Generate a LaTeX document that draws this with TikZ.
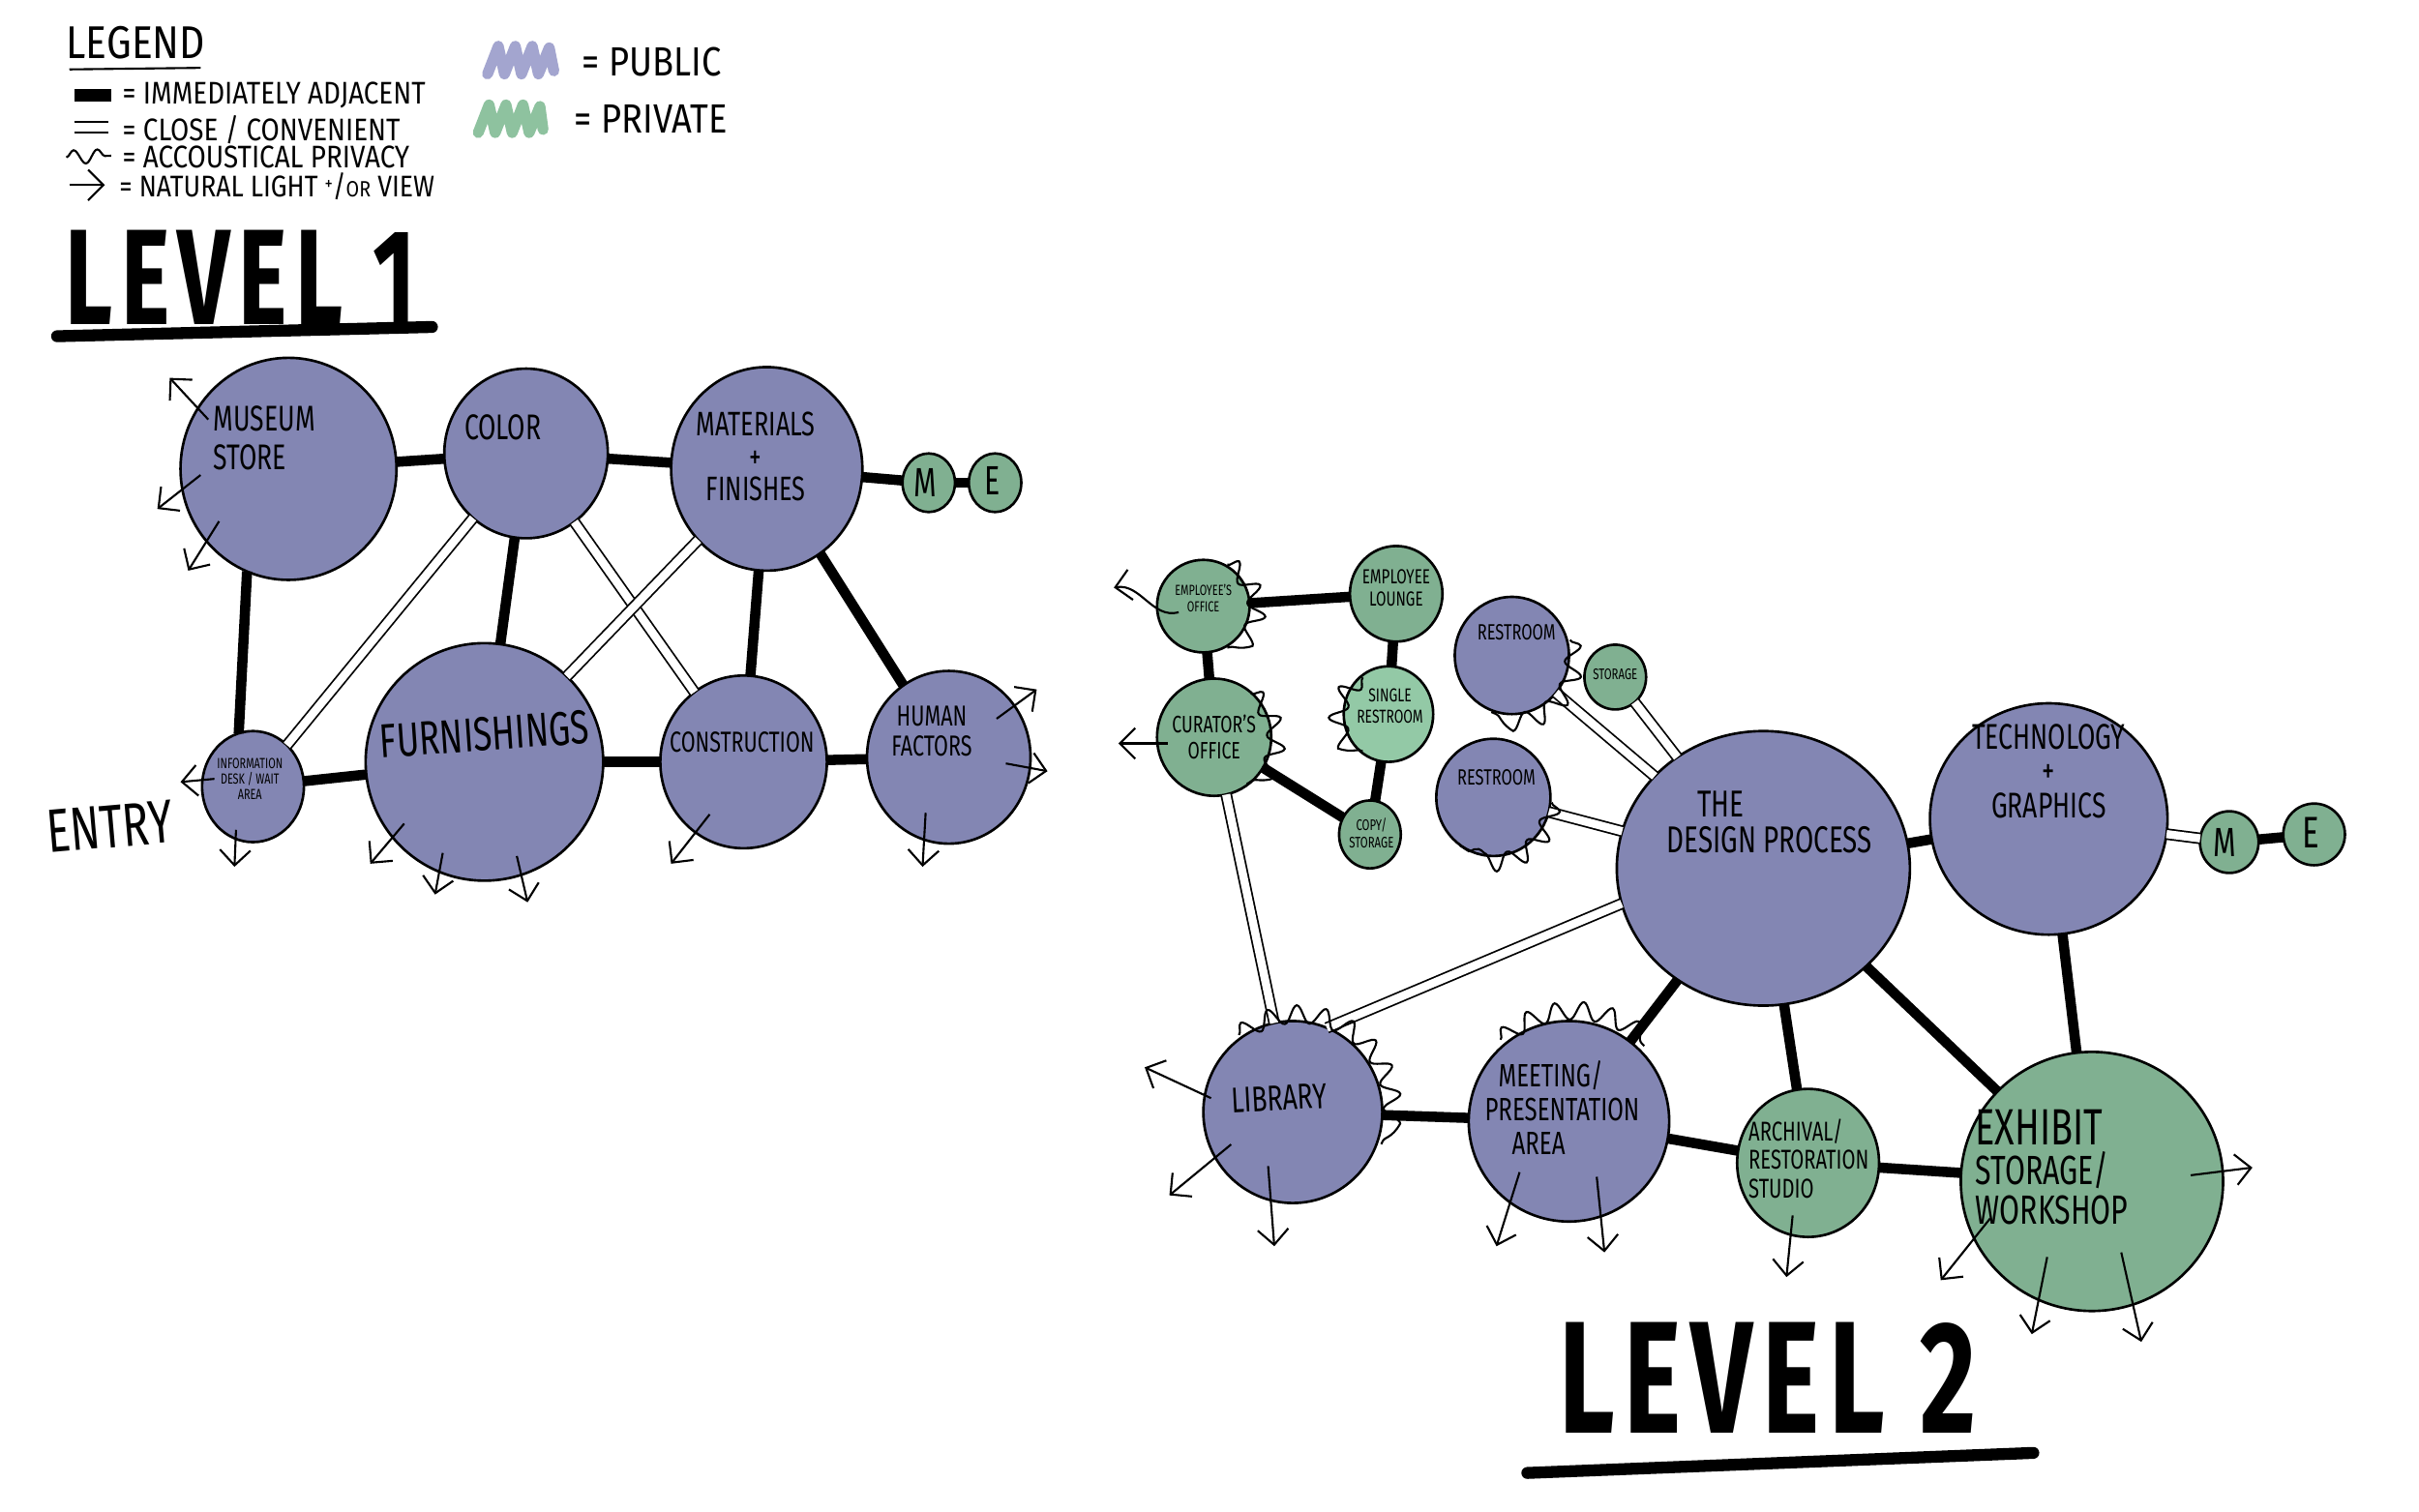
\documentclass[tikz,border=0pt]{standalone}
\usepackage{fontspec}
\setmainfont{Fira Sans}[FakeStretch=0.72]
\newfontfamily\legfont{Fira Sans}[FakeStretch=0.86]
\newfontfamily\titlefont{Fira Sans}[FakeStretch=0.68, LetterSpace=6]
\usetikzlibrary{shapes.geometric,arrows.meta,decorations.pathmorphing}
\definecolor{pub}{HTML}{8386B3}
\definecolor{priv}{HTML}{80B091}
\definecolor{privlt}{HTML}{93C9A6}
\definecolor{pubsw}{HTML}{A3A5CF}
\definecolor{privsw}{HTML}{8EC29F}
\newcommand{\hfs}[2]{\fontsize{#1}{#2}\selectfont}
\begin{document}
\begin{tikzpicture}[x=0.015944cm, y=-0.015944cm,
  room/.style={ellipse, draw=black, line width=0.75pt, inner sep=0pt, outer sep=0pt},
  pubr/.style={room, fill=pub},
  privr/.style={room, fill=priv},
  sz/.style 2 args={minimum width=#1*0.031888cm, minimum height=#2*0.031888cm},
  adj/.style={line width=3pt},
  conv/.style={draw=black, line width=0.5pt, double=white, double distance=2.4pt},
  lite/.style={line width=0.6pt, -{Straight Barb[length=4.5pt,width=9pt]}},
  squig/.style={line width=0.6pt, decorate, decoration={snake, amplitude=2.6pt, segment length=8pt}},
  lbl/.style={inner sep=0pt, align=center}]
\fill[white] (0,0) rectangle (1568,980);
\useasboundingbox (0,0) rectangle (1568,980);

% ---------------- Legend ----------------
\node[lbl, font=\legfont\hfs{13.5}{14}] (lgT) at (88,28) {LEGEND};
\draw[line width=0.6pt] (45,45) -- (130,44);
\fill (48,58) rectangle (72,66);
\node[lbl, anchor=west, font=\legfont\hfs{9.2}{9}] (lg1) at (79,62) {= IMMEDIATELY ADJACENT};
\draw[line width=0.6pt] (48,79) -- (70,79) (48,86) -- (70,86);
\node[lbl, anchor=west, font=\legfont\hfs{9.2}{9}] (lg2) at (79,84) {= CLOSE / CONVENIENT};
\draw[line width=0.6pt, decorate, decoration={snake, amplitude=2pt, segment length=7pt}] (43,102) -- (72,101);
\node[lbl, anchor=west, font=\legfont\hfs{9.2}{9}] (lg3) at (79,102) {= ACCOUSTICAL PRIVACY};
\draw[lite] (45,120) -- (68,120);
\node[lbl, anchor=west, font=\legfont\hfs{8.8}{9}] (lg4) at (77,121) {= NATURAL LIGHT \raisebox{2pt}{\hfs{5.5}{5}+}/{\hfs{6.5}{6}OR} VIEW};
\draw[pubsw, line width=3.2pt, line cap=round, line join=round] (316,48) -- (323,30) -- (327,48) -- (334,30) -- (338,48) -- (345,30) -- (349,48) -- (356,31) -- (359,46);
\node[lbl, anchor=west, font=\legfont\hfs{12}{12}] (lgP) at (377,40) {= PUBLIC};
\draw[privsw, line width=3.2pt, line cap=round, line join=round] (310,86) -- (317,68) -- (321,86) -- (328,68) -- (332,86) -- (339,68) -- (343,86) -- (350,69) -- (352,84);
\node[lbl, anchor=west, font=\legfont\hfs{12}{12}] (lgV) at (372,77) {= PRIVATE};

% ---------------- Level 1 ----------------
\node[lbl, anchor=west, font=\titlefont\bfseries\hfs{40}{40}] (l1T) at (42,180) {LEVEL 1};
\draw[line width=3.5pt, line cap=round] (37,218) -- (280,212);

\node[pubr, sz={70}{72}] (ms) at (187,304) {};
\node[pubr, sz={53}{55}] (col) at (341,294) {};
\node[pubr, sz={62}{66}] (mat) at (497,304) {};
\node[privr, sz={17}{19}] (m1) at (602,313) {};
\node[privr, sz={17}{19}] (e1) at (645,313) {};
\node[pubr, sz={33}{36}] (info) at (164,510) {};
\node[pubr, sz={77}{77}] (fur) at (314,494) {};
\node[pubr, sz={54}{56}] (con) at (482,494) {};
\node[pubr, sz={53}{56}] (hf) at (615,491) {};

\draw[adj] (ms) -- (col);
\draw[adj] (col) -- (mat);
\draw[adj] (mat) -- (m1);
\draw[adj] (m1) -- (e1);
\draw[adj] (ms.248) -- (info.105);
\draw[adj] (info) -- (fur);
\draw[adj] (fur) -- (con);
\draw[adj] (con) -- (hf);
\draw[adj] (col) -- (fur);
\draw[adj] (mat) -- (con);
\draw[adj] (mat) -- (hf);
\draw[conv] (col) -- (info);
\draw[conv] (col) -- (con);
\draw[conv] (mat) -- (fur);

\draw[lite] (135,272) -- (110,245);
\draw[lite] (130,308) -- (102,330);
\draw[lite] (142,338) -- (122,370);
\draw[lite] (139,505) -- (117,507);
\draw[lite] (153,538) -- (152,562);
\draw[lite] (262,534) -- (240,560);
\draw[lite] (287,553) -- (282,580);
\draw[lite] (335,555) -- (342,585);
\draw[lite] (460,528) -- (435,560);
\draw[lite] (646,466) -- (672,447);
\draw[lite] (652,495) -- (679,500);
\draw[lite] (600,527) -- (598,562);

\node[lbl, align=left, anchor=west, font=\hfs{10.5}{11.5}] (msT) at (138,284) {MUSEUM\\STORE};
\node[lbl, font=\hfs{10.5}{11}] (colT) at (326,277) {COLOR};
\node[lbl, font=\hfs{10}{9.5}] (matT) at (490,296) {MATERIALS\\+\\FINISHES};
\node[lbl, font=\hfs{12}{12}] (m1T) at (600,313) {M};
\node[lbl, font=\hfs{12}{12}] (e1T) at (643,312) {E};
\node[lbl, font=\hfs{4.3}{4.6}] (infoT) at (162,505) {INFORMATION\\DESK / WAIT\\AREA};
\node[lbl, font=\hfs{14}{14}, rotate=4] (furT) at (314,476) {FURNISHINGS};
\node[lbl, font=\hfs{8.5}{9}] (conT) at (481,481) {CONSTRUCTION};
\node[lbl, font=\hfs{8.5}{9}] (hfT) at (604,474) {HUMAN\\FACTORS};
\node[lbl, font=\hfs{18}{18}, rotate=5] (entT) at (71,536) {ENTRY};

% ---------------- Level 2 ----------------
\node[privr, sz={30}{30}] (eo) at (780,393) {};
\node[privr, sz={30}{31}] (el) at (905,385) {};
\node[privr, sz={37}{38}] (co) at (787,478) {};
\node[room, fill=privlt, sz={29}{31}] (sr) at (900,463) {};
\node[privr, sz={20}{22}] (cs) at (888,541) {};
\node[pubr, sz={37}{38}] (r1) at (980,425) {};
\node[privr, sz={20}{21}] (st) at (1047,439) {};
\node[pubr, sz={37}{38}] (r2) at (968,517) {};
\node[pubr, sz={95}{89}] (dp) at (1143,563) {};
\node[pubr, sz={77}{75}] (tg) at (1328,531) {};
\node[privr, sz={19}{20}] (m2) at (1445,546) {};
\node[privr, sz={20}{20}] (e2) at (1500,541) {};
\node[pubr, sz={58}{59}] (lib) at (838,721) {};
\node[pubr, sz={65}{65}] (mt) at (1017,727) {};
\node[privr, sz={46}{48}] (ar) at (1172,754) {};
\node[privr, sz={85}{84}] (ex) at (1356,766) {};

\draw[adj] (eo) -- (el);
\draw[adj] (eo) -- (co);
\draw[adj] (el) -- (sr);
\draw[adj] (sr) -- (cs);
\draw[adj] (co) -- (cs);
\draw[conv] (co) -- (lib);
\draw[conv] (r1) -- (dp);
\draw[conv] (st) -- (dp);
\draw[conv] (r2) -- (dp);
\draw[conv] (lib.68) -- (dp.194);
\draw[adj] (dp) -- (tg);
\draw[conv] (tg) -- (m2);
\draw[adj] (m2) -- (e2);
\draw[adj] (dp) -- (mt);
\draw[adj] (dp) -- (ar);
\draw[adj] (dp) -- (ex);
\draw[adj] (tg) -- (ex);
\draw[adj] (lib) -- (mt);
\draw[adj] (mt) -- (ar);
\draw[adj] (ar) -- (ex);

% acoustic privacy squiggles
\draw[squig] (780,393) ++(-60:31) arc[start angle=-60, end angle=60, radius=31];
\draw[squig] (787,478) ++(-50:37) arc[start angle=-50, end angle=55, radius=37];
\draw[squig] (900,463) ++(235:29) arc[start angle=235, end angle=125, radius=29];
\draw[squig] (980,425) ++(-15:39) arc[start angle=-15, end angle=110, radius=39];
\draw[squig] (968,517) ++(5:38) arc[start angle=5, end angle=125, radius=38];
\draw[squig] (838,721) ++(-125:61) arc[start angle=-125, end angle=20, radius=61];
\draw[squig] (1017,727) ++(-130:69) arc[start angle=-130, end angle=-45, radius=69];

% natural light arrows
\draw[lite] (764,397) to[out=195, in=10] (722,381);
\draw[lite] (757,482) -- (725,482);
\draw[lite] (785,712) -- (742,692);
\draw[lite] (798,742) -- (758,775);
\draw[lite] (822,756) -- (826,808);
\draw[lite] (985,760) -- (970,808);
\draw[lite] (1035,763) -- (1040,812);
\draw[lite] (1162,788) -- (1158,828);
\draw[lite] (1420,762) -- (1460,757);
\draw[lite] (1290,790) -- (1258,830);
\draw[lite] (1327,815) -- (1317,865);
\draw[lite] (1375,812) -- (1388,870);

\node[lbl, font=\hfs{4.3}{5}] (eoT) at (780,388) {EMPLOYEE'S\\OFFICE};
\node[lbl, font=\hfs{6}{6.5}] (elT) at (905,381) {EMPLOYEE\\LOUNGE};
\node[lbl, font=\hfs{7}{7.7}] (coT) at (787,478) {CURATOR'S\\OFFICE};
\node[lbl, font=\hfs{5.5}{6.3}] (srT) at (901,458) {SINGLE\\RESTROOM};
\node[lbl, font=\hfs{4.5}{5}] (csT) at (889,540) {COPY/\\STORAGE};
\node[lbl, font=\hfs{6.5}{7}] (r1T) at (983,410) {RESTROOM};
\node[lbl, font=\hfs{4.5}{5}] (stT) at (1047,437) {STORAGE};
\node[lbl, font=\hfs{6.5}{7}] (r2T) at (970,504) {RESTROOM};
\node[lbl, align=left, anchor=west, font=\hfs{11}{10.5}] (dpT) at (1080,533) {\hspace{9pt}THE\\DESIGN PROCESS};
\node[lbl, font=\hfs{10.5}{10}] (tgT) at (1328,500) {TECHNOLOGY\\+\\GRAPHICS};
\node[lbl, font=\hfs{12}{12}] (m2T) at (1442,546) {M};
\node[lbl, font=\hfs{13}{13}] (e2T) at (1498,540) {E};
\node[lbl, font=\hfs{10.5}{10.5}, rotate=3] (libT) at (829,712) {LIBRARY};
\node[lbl, align=left, anchor=west, font=\hfs{9.5}{10}] (mtT) at (962,718) {\hspace{4pt}MEETING/\\PRESENTATION\\\hspace{8pt}AREA};
\node[lbl, align=left, anchor=west, font=\hfs{8}{8.4}] (arT) at (1133,751) {ARCHIVAL/\\RESTORATION\\STUDIO};
\node[lbl, align=left, anchor=west, font=\hfs{12}{11.7}] (exT) at (1280,757) {{\hfs{15}{11.7}EXHIBIT}\\STORAGE/\\WORKSHOP};

\node[lbl, anchor=west, font=\titlefont\bfseries\hfs{47}{47}] (l2T) at (1010,893) {LEVEL 2};
\draw[line width=3.5pt, line cap=round] (990,955) -- (1318,942);
\end{tikzpicture}
\end{document}
